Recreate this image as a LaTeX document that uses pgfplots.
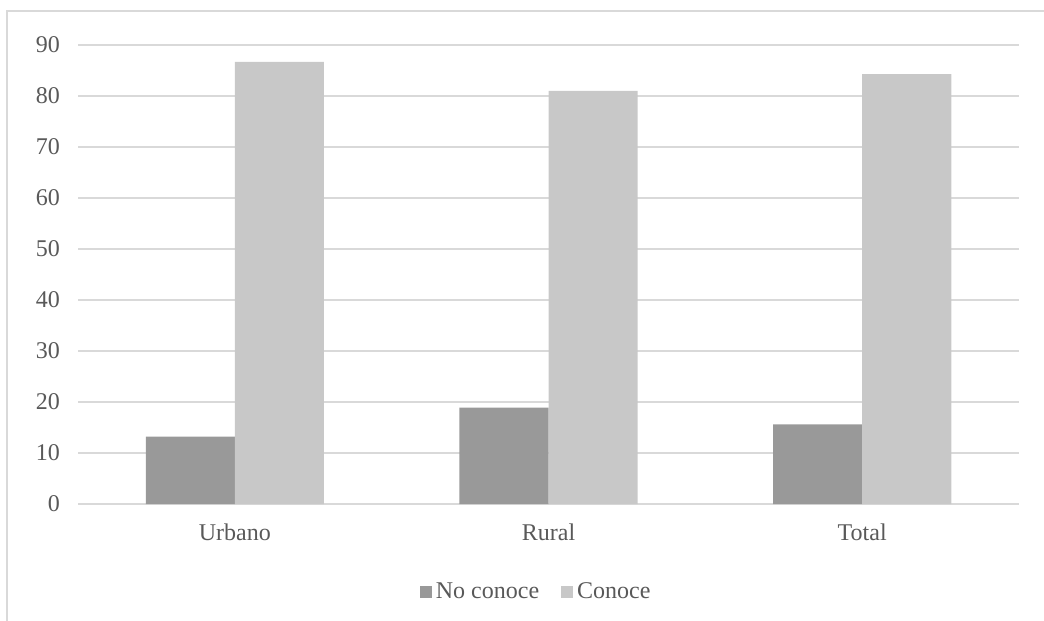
\documentclass[border=0pt]{standalone}
\usepackage{pgfplots}
\pgfplotsset{compat=1.18}
\usepackage{fontspec}
\setmainfont{Liberation Serif}
\definecolor{txt}{HTML}{595959}
\definecolor{gridc}{HTML}{D9D9D9}
\definecolor{noc}{HTML}{999999}
\definecolor{con}{HTML}{C8C8C8}
\begin{document}
\begin{tikzpicture}
\path[use as bounding box] (0,0) rectangle (522pt,-310.5pt);
\draw[gridc, line width=0.6pt] (3.5pt,-310.5pt) -- (3.5pt,-5.5pt) -- (522pt,-5.5pt);
\begin{axis}[
    at={(39pt,-252pt)}, anchor=south west,
    scale only axis,
    width=470.5pt, height=229.5pt,
    xmin=-0.5, xmax=2.5,
    ymin=0, ymax=90,
    ytick={0,10,...,90},
    xtick=data,
    xticklabels={Urbano,Rural,Total},
    ybar, bar width=0.284,
    axis line style={draw=none},
    axis x line*=bottom,
    x axis line style={draw=gridc, line width=1pt},
    major tick length=0pt,
    ymajorgrids=true,
    grid style={gridc, line width=1pt},
    tick label style={font=\fontsize{12}{14}\selectfont, text=txt},
    /pgf/number format/assume math mode=true,
    yticklabel style={xshift=-5.5pt},
    xticklabel style={yshift=-6.5pt},
    legend columns=2,
    legend style={draw=none, fill=none, font=\fontsize{12}{14}\selectfont, text=txt,
        at={(0.488,-0.192)}, anchor=center,
        /tikz/every even column/.append style={column sep=9pt}},
    legend image code/.code={\fill[#1] (0pt,-3pt) rectangle (6pt,3pt);},
]
\addplot[fill=noc, draw=none, bar shift=-0.142] coordinates {(0,13.2) (1,18.9) (2,15.6)};
\addplot[fill=con, draw=none, bar shift=0.142] coordinates {(0,86.7) (1,81.0) (2,84.3)};
\legend{No conoce, Conoce}
\end{axis}
\end{tikzpicture}
\end{document}
